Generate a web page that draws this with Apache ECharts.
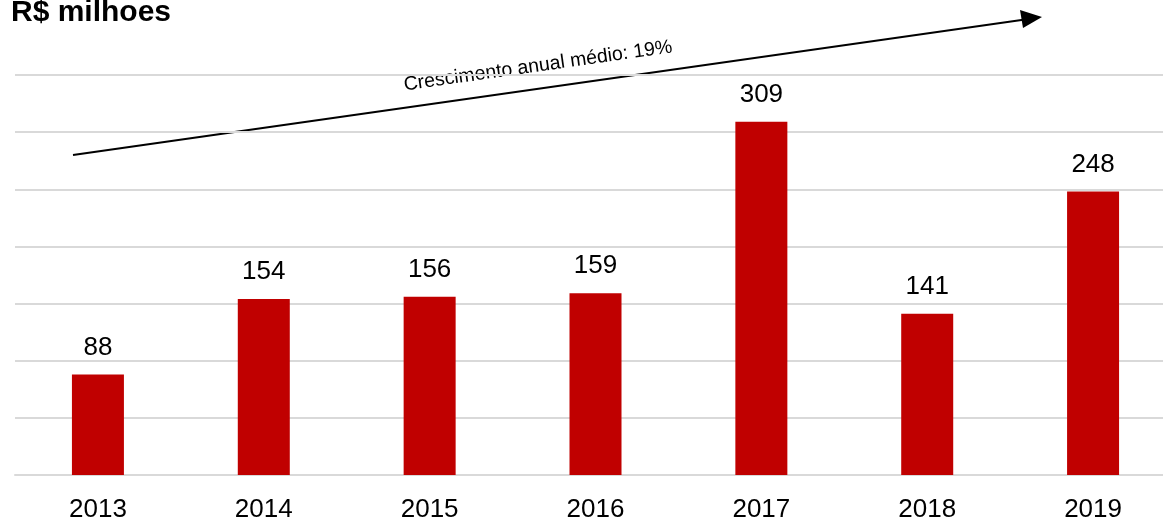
<!DOCTYPE html>
<html><head><meta charset="utf-8">
<script src="https://cdn.jsdelivr.net/npm/echarts@6/dist/echarts.min.js"></script>
<style>html,body{margin:0;padding:0;background:#fff}#c{width:1163px;height:520px}</style>
</head><body><div id="c"></div>
<script>
const years = ['2013','2014','2015','2016','2017','2018','2019'];
const values = [88, 154, 156, 159, 309, 141, 248];
const unitTitle = 'R$ milhoes';
const growthNote = 'Crescimento anual médio: 19%';
const FONT = "'Liberation Sans Narrow', 'Liberation Sans', Arial, sans-serif";

const chart = echarts.init(document.getElementById('c'));
const ang = Math.atan2(155-17, 1042-73);
chart.setOption({
  animation: false,
  grid: {left: 15, width: 1161, top: 75, height: 400, outerBoundsMode: 'none', containLabel: false},
  xAxis: {
    type: 'category', data: years,
    axisLine: {show: true, lineStyle: {color: '#d9d9d9', width: 2}},
    axisTick: {show: false},
    axisLabel: {color: '#000', fontFamily: FONT, fontSize: 26, margin: 22}
  },
  yAxis: {
    type: 'value', min: 0, max: 350, interval: 50,
    axisLabel: {show: false}, axisLine: {show: false}, axisTick: {show: false},
    splitLine: {lineStyle: {color: '#d9d9d9', width: 2}}
  },
  series: [{
    type: 'bar', data: values, barWidth: 52,
    itemStyle: {color: '#c00000'},
    label: {show: true, position: 'top', distance: 14, color: '#000', fontFamily: FONT, fontSize: 26}
  }],
  graphic: [
    {type: 'text', left: 11, top: -2, style: {text: unitTitle, font: "bold 30px 'Liberation Sans', Arial, sans-serif", fill: '#000'}},
    {type: 'line', shape: {x1: 73, y1: 155, x2: 1025, y2: 19.4}, style: {stroke: '#000', lineWidth: 2}},
    {type: 'polygon', shape: {points: [[1042,17],[1023,28],[1020,10]]}, style: {fill: '#000'}},
    {type: 'text', x: 538, y: 66, rotation: ang, style: {text: growthNote, font: "19.5px " + FONT, fill: '#000', align: 'center', verticalAlign: 'middle'}}
  ]
});
</script></body></html>
